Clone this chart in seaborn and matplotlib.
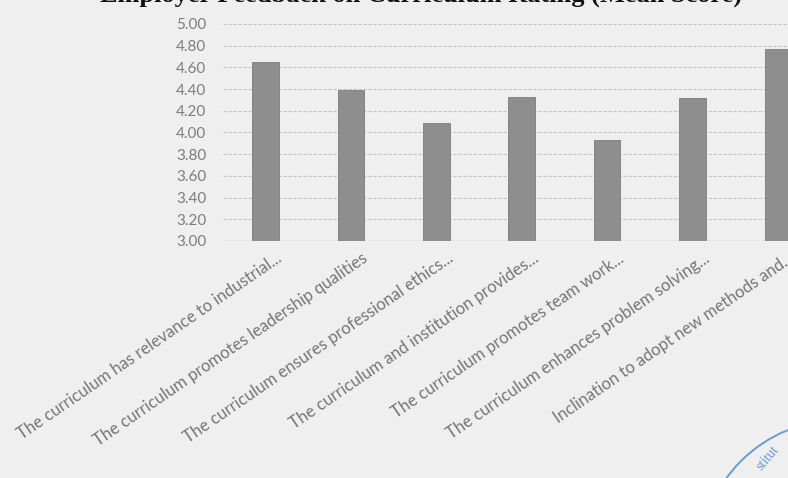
import matplotlib
matplotlib.use("Agg")
import matplotlib.pyplot as plt
from matplotlib.transforms import ScaledTranslation
from matplotlib.patches import Ellipse
import seaborn as sns
import pandas as pd

categories = [
    "The curriculum has relevance to industrial...",
    "The curriculum promotes leadership qualities",
    "The curriculum ensures professional ethics...",
    "The curriculum and institution provides...",
    "The curriculum promotes team work...",
    "The curriculum enhances problem solving...",
    "Inclination to adopt new methods and...",
]
values = [4.65, 4.39, 4.09, 4.33, 3.93, 4.32, 4.77]
yticks = [3.00, 3.20, 3.40, 3.60, 3.80, 4.00, 4.20, 4.40, 4.60, 4.80, 5.00]
title = "Employer Feedback on Curriculum Rating (Mean Score)"

sns.set_style("white")
plt.rcParams["font.family"] = ["Lato", "DejaVu Sans"]

bg = "#efefef"
fig = plt.figure(figsize=(7.88, 4.78), dpi=100, facecolor=bg)
W, H = 788, 478
left_px, right_px = 222.8, 820.6
top_px, bot_px = 24, 241
ax = fig.add_axes([left_px / W, 1 - bot_px / H, (right_px - left_px) / W, (bot_px - top_px) / H])
ax.set_facecolor(bg)

df = pd.DataFrame({"cat": categories, "val": values})
sns.barplot(data=df, x="cat", y="val", color="#8e8e8e", width=0.31,
            edgecolor="#7b7b7b", linewidth=0.6, saturation=1, ax=ax, zorder=3)

ax.set_xlim(-0.5, len(categories) - 0.5)
ax.set_ylim(3.0, 5.0)
ax.set_yticks(yticks)
ax.set_yticklabels([f"{v:.2f}" for v in yticks], color="#7d7d7d", fontsize=11)
ax.tick_params(axis="y", length=0, pad=12)
ax.tick_params(axis="x", length=0, pad=2)
ax.set_xlabel("")
ax.set_ylabel("")
for s in ax.spines.values():
    s.set_visible(False)
ax.yaxis.grid(True, color="#c4c4c4", linestyle=(0, (3, 1.5)), linewidth=0.8, zorder=0)
ax.xaxis.grid(False)
ax.axhline(3.0, color="#bdbdbd", linewidth=0.9, zorder=1)

ax.set_xticks(range(len(categories)))
ax.set_xticklabels(categories, rotation=34.5, ha="right", va="center",
                   rotation_mode="anchor", color="#767676", fontsize=12)
off = ScaledTranslation(15 / 100, -13 / 100, fig.dpi_scale_trans)
for lab in ax.get_xticklabels():
    lab.set_transform(lab.get_transform() + off)

fig.text(742 / W, 1 - 2 / H, title, family=["Liberation Serif"], fontweight="bold",
         fontsize=19, ha="right", va="baseline", color="#111111")

# stamp remnant
fig.add_artist(Ellipse((840 / W, 1 - 560 / H), 2 * 140 / W, 2 * 140 / H,
                       transform=fig.transFigure, fill=False, edgecolor="#6a9bd1", linewidth=1.4))
fig.text(768 / W, 1 - 458 / H, "stitut", color="#6a9bd1", fontsize=10, rotation=50,
         ha="center", va="center", family=["Liberation Serif"])

fig.savefig("out.png", dpi=100, facecolor=bg)
